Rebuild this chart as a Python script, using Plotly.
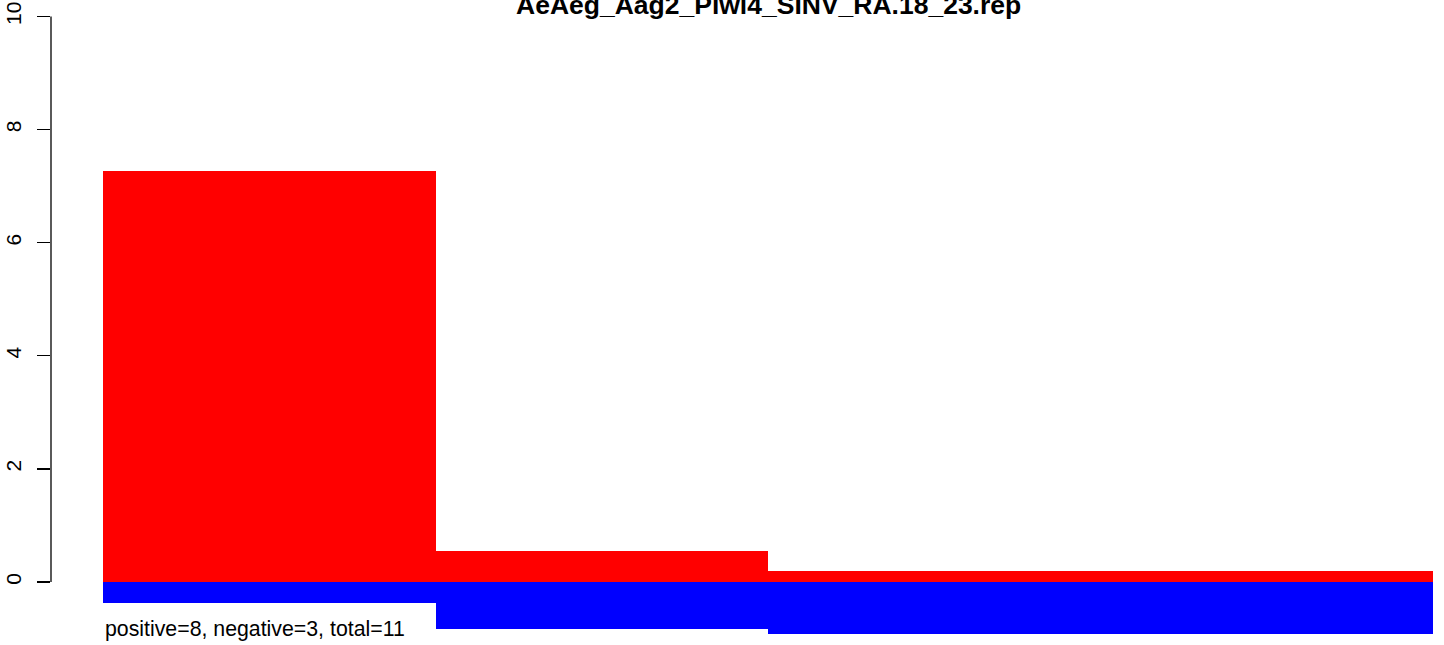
import plotly.graph_objects as go

# ---- data ----
bin_edges = [0, 1, 2, 4]
pos_values = [7.27, 0.55, 0.19]
neg_values = [-0.37, -0.83, -0.92]
y_ticks = [0, 2, 4, 6, 8, 10]
title_text = "AeAeg_Aag2_Piwi4_SINV_RA.18_23.rep"
summary_text = "positive=8, negative=3, total=11"

centers = [(a + b) / 2 for a, b in zip(bin_edges[:-1], bin_edges[1:])]
widths = [b - a for a, b in zip(bin_edges[:-1], bin_edges[1:])]

W, H = 1444, 645
px_x = (1433 - 103) / (bin_edges[-1] - bin_edges[0])   # px per x unit
px_y = (582 - 16.5) / 10.0                              # px per y unit
left = 51
x_range = [bin_edges[0] - (103 - left) / px_x, bin_edges[0] + (W - 103) / px_x]
y_range = [-(H - 582) / px_y, 582 / px_y]

fig = go.Figure()
fig.add_trace(go.Bar(x=centers, y=pos_values, width=widths,
                     marker=dict(color="#FF0000", line=dict(width=0)),
                     showlegend=False, hoverinfo="skip"))
fig.add_trace(go.Bar(x=centers, y=neg_values, width=widths,
                     marker=dict(color="#0000FF", line=dict(width=0)),
                     showlegend=False, hoverinfo="skip"))

# y axis line spanning 0..max tick
fig.add_shape(type="line", xref="paper", yref="y", x0=0, x1=0,
              y0=y_ticks[0], y1=y_ticks[-1],
              line=dict(color="black", width=1.3))

fig.add_annotation(text="<b>" + title_text + "</b>", xref="x", yref="y",
                   x=(bin_edges[0] + bin_edges[-1]) / 2, y=9.895,
                   xanchor="center", yanchor="bottom", showarrow=False,
                   font=dict(family="Liberation Sans", size=26.5, color="black"))
fig.add_annotation(text=summary_text, xref="x", yref="y",
                   x=bin_edges[0], y=-1.075,
                   xanchor="left", yanchor="bottom", showarrow=False,
                   font=dict(family="Liberation Sans", size=21.3, color="black"))

fig.update_layout(
    width=W, height=H,
    margin=dict(l=left, r=0, t=0, b=0, autoexpand=False),
    paper_bgcolor="white", plot_bgcolor="white",
    barmode="overlay", bargap=0,
    font=dict(family="Liberation Sans", size=21, color="black"),
    xaxis=dict(range=x_range, visible=False, showgrid=False, zeroline=False,
               automargin=False),
    yaxis=dict(range=y_range, tickvals=y_ticks, ticktext=[str(t) for t in y_ticks],
               ticks="outside", ticklen=13, tickwidth=1.3, tickcolor="black",
               tickangle=-90, ticklabelstandoff=8, automargin=False,
               showgrid=False, zeroline=False, showline=False,
               tickfont=dict(family="Liberation Sans", size=21, color="black")),
)

fig.write_html("out.html",
               config={"displayModeBar": False, "staticPlot": True},
               post_script="document.body.style.margin='0';document.body.style.overflow='hidden';")
